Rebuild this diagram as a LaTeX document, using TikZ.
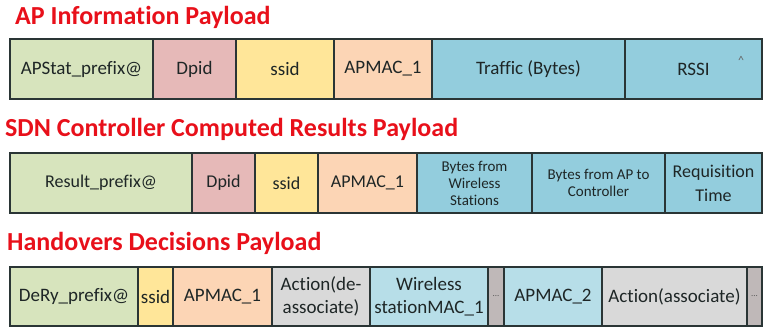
\documentclass[tikz,border=0pt]{standalone}
\usepackage{fontspec}
\setmainfont{Carlito}[Ligatures=NoCommon]
\definecolor{titlered}{HTML}{E8101A}
\definecolor{cgreen}{HTML}{D7E4BD}
\definecolor{cpink}{HTML}{E6B9B8}
\definecolor{cyellow}{HTML}{FFE699}
\definecolor{corange}{HTML}{FCD5B5}
\definecolor{cblue}{HTML}{93CDDD}
\definecolor{clightblue}{HTML}{B7DEE8}
\definecolor{cgray}{HTML}{D9D9D9}
\definecolor{cdarkgray}{HTML}{BFB8B8}
\definecolor{edge}{HTML}{2A3535}
\definecolor{ink}{HTML}{1E2626}
\begin{document}
\begin{tikzpicture}[x=1pt,y=-1pt,
  title/.style={anchor=base west,inner sep=0pt,text=titlered,
    font=\fontsize{26}{30}\selectfont\bfseries},
  cell/.style={draw=edge,line width=1.3pt,inner sep=1pt,text=ink,
    align=center,font=\fontsize{19}{23}\selectfont},
  smallcell/.style={cell,font=\fontsize{15}{17}\selectfont},
  midcell/.style={cell,font=\fontsize{18}{24}\selectfont},
  dotcell/.style={cell,inner sep=0pt,font=\fontsize{9}{9}\selectfont,text=gray!70!black},
]
\useasboundingbox (0,0) rectangle (769,328);
% cell macro: name, x1, x2, y1, y2, style, fill, text
\newcommand{\fieldbox}[8]{%
  \node[#6,fill=#7,minimum width={(#3)-(#2)},minimum height={(#5)-(#4)}]
    (#1) at ({((#2)+(#3))/2},{((#4)+(#5))/2}) {#8};}

% ---- AP information payload
\node[title] (t1) at (15,25) {AP Information Payload};
\fieldbox{a1}{10}{153}{39}{99}{cell}{cgreen}{APStat\_prefix@}
\fieldbox{a2}{153}{236}{39}{99}{cell}{cpink}{Dpid}
\fieldbox{a3}{236}{334}{39}{99}{cell}{cyellow}{ssid}
\fieldbox{a4}{334}{432}{39}{99}{cell}{corange}{APMAC\_1}
\fieldbox{a5}{432}{625}{39}{99}{cell}{cblue}{Traffic (Bytes)}
\fieldbox{a6}{625}{762}{39}{99}{cell}{cblue}{RSSI}
\node[text=gray!80!black,font=\fontsize{12}{12}\selectfont,inner sep=0pt] (caret) at (741,60) {\^{}};

% ---- SDN controller computed results payload
\node[title] (t2) at (5,137) {SDN Controller Computed Results Payload};
\fieldbox{b1}{10}{192}{153}{213}{midcell}{cgreen}{Result\_prefix@}
\fieldbox{b2}{192}{255}{153}{213}{midcell}{cpink}{Dpid}
\fieldbox{b3}{255}{318}{153}{213}{midcell}{cyellow}{ssid}
\fieldbox{b4}{318}{417}{153}{213}{midcell}{corange}{APMAC\_1}
\fieldbox{b5}{417}{532}{153}{213}{smallcell}{cblue}{Bytes from\\Wireless\\Stations}
\fieldbox{b6}{532}{665}{153}{213}{smallcell}{cblue}{Bytes from AP to\\Controller}
\fieldbox{b7}{665}{762}{153}{213}{midcell}{cblue}{Requisition\\Time}

% ---- Handovers decisions payload
\node[title] (t3) at (7,251) {Handovers Decisions Payload};
\fieldbox{c1}{10}{138}{267}{326}{cell}{cgreen}{DeRy\_prefix@}
\fieldbox{c2}{138}{173}{267}{326}{cell}{cyellow}{ssid}
\fieldbox{c3}{173}{272}{267}{326}{cell}{corange}{APMAC\_1}
\fieldbox{c4}{272}{370}{267}{326}{cell}{cgray}{Action(de-\\associate)}
\fieldbox{c5}{370}{488}{267}{326}{cell}{clightblue}{Wireless\\stationMAC\_1}
\fieldbox{c6}{488}{504}{267}{326}{dotcell}{cdarkgray}{...}
\fieldbox{c7}{504}{602}{267}{326}{cell}{clightblue}{APMAC\_2}
\fieldbox{c8}{602}{747}{267}{326}{cell}{cgray}{Action(associate)}
\fieldbox{c9}{747}{762}{267}{326}{dotcell}{cdarkgray}{...}
\end{tikzpicture}
\end{document}
